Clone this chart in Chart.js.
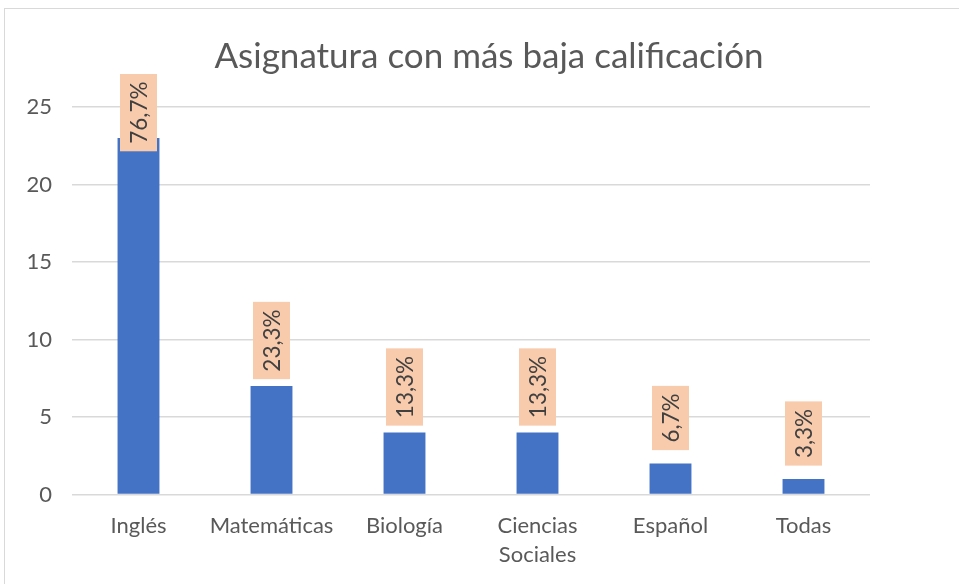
<!DOCTYPE html>
<html lang="es">

<head>
    <meta charset="UTF-8">
    <title>Asignatura con más baja calificación</title>
    <style>
        html, body {
            margin: 0;
            padding: 0;
            background: #ffffff;
            overflow: hidden;
        }

        #frame {
            position: absolute;
            left: 4px;
            top: 8px;
            width: 980px;
            height: 600px;
            border-left: 1px solid #d9d9d9;
            border-top: 1px solid #d9d9d9;
        }

        #chart {
            position: absolute;
            left: 0;
            top: 0;
        }
    </style>
</head>

<body>

    <div id="frame">
        <canvas id="chart" width="968" height="576"></canvas>
    </div>

    <script src="https://cdn.jsdelivr.net/npm/chart.js"></script>
    <script>
        // Data
        const subjects = ['Inglés', 'Matemáticas', 'Biología', ['Ciencias', 'Sociales'], 'Español', 'Todas'];
        const students = [23, 7, 4, 4, 2, 1];
        const percentLabels = ['76,7%', '23,3%', '13,3%', '13,3%', '6,7%', '3,3%'];
        const yTicks = [0, 5, 10, 15, 20, 25];

        const fontName = 'Lato, "Noto Sans", sans-serif';
        const axisGrey = '#595959';

        // Rotated value labels with a peach box, like Excel data callouts
        const percentBoxes = {
            id: 'percentBoxes',
            afterDatasetsDraw(chart) {
                const ctx = chart.ctx;
                const meta = chart.getDatasetMeta(0);
                ctx.save();
                ctx.font = '22.5px ' + fontName;
                meta.data.forEach((bar, i) => {
                    const text = percentLabels[i];
                    const len = ctx.measureText(text).width + 15;
                    const half = 18.5;
                    let mid = bar.y - 45.5;
                    let top = Math.max(mid - len / 2, 65);
                    mid = top + len / 2;

                    ctx.fillStyle = '#f8cbad';
                    ctx.fillRect(bar.x - half, top, half * 2, len);

                    ctx.translate(bar.x, mid);
                    ctx.rotate(-Math.PI / 2);
                    ctx.fillStyle = '#404040';
                    ctx.textAlign = 'center';
                    ctx.textBaseline = 'middle';
                    ctx.fillText(text, 0, 1);
                    ctx.setTransform(1, 0, 0, 1, 0, 0);
                });
                ctx.restore();
            }
        };

        new Chart(document.getElementById('chart'), {
            type: 'bar',
            data: {
                labels: subjects,
                datasets: [{
                    data: students,
                    backgroundColor: '#4472c4',
                    borderWidth: 0,
                    barPercentage: 0.315,
                    categoryPercentage: 1
                }]
            },
            options: {
                responsive: false,
                animation: false,
                devicePixelRatio: 1,
                layout: {
                    padding: 0
                },
                plugins: {
                    legend: { display: false },
                    tooltip: { enabled: false },
                    title: {
                        display: true,
                        text: 'Asignatura con más baja calificación',
                        color: axisGrey,
                        font: { family: fontName, size: 35, weight: 'normal', lineHeight: 1.2 },
                        padding: { top: 27, bottom: 29 }
                    }
                },
                scales: {
                    x: {
                        grid: { display: false, drawTicks: false },
                        border: { display: false },
                        ticks: {
                            color: axisGrey,
                            padding: 16,
                            maxRotation: 0,
                            autoSkip: false,
                            font: { family: fontName, size: 22, lineHeight: 1.36 }
                        },
                        afterFit(scale) { scale.height = 90.5; }
                    },
                    y: {
                        min: 0,
                        max: 25,
                        afterBuildTicks(scale) {
                            scale.ticks = yTicks.map(v => ({ value: v }));
                        },
                        grid: { color: '#d9d9d9', lineWidth: 1.5, drawTicks: false },
                        border: { display: false },
                        ticks: {
                            color: axisGrey,
                            padding: 20,
                            font: { family: fontName, size: 22 }
                        },
                        afterFit(scale) { scale.width = 67; }
                    },
                    // empty right-hand spacer so the plot ends where Excel's does
                    spacer: {
                        position: 'right',
                        min: 0,
                        max: 25,
                        grid: { display: false, drawTicks: false },
                        border: { display: false },
                        ticks: { display: false },
                        afterFit(scale) { scale.width = 103; }
                    }
                }
            },
            plugins: [percentBoxes]
        });
    </script>

</body>

</html>
